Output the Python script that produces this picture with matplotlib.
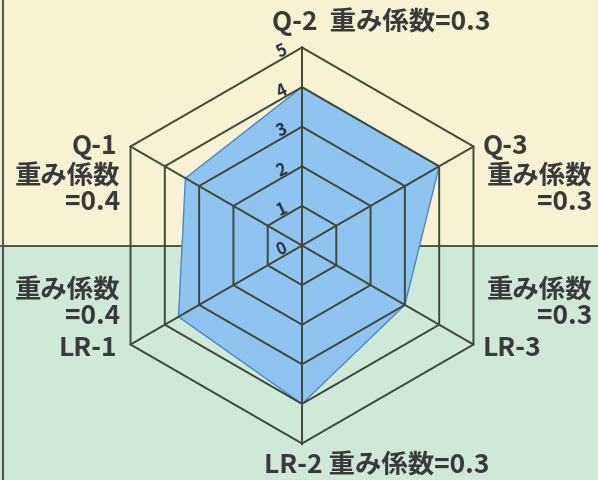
import numpy as np
import matplotlib
matplotlib.use("Agg")
import matplotlib.pyplot as plt

# axis names clockwise from top
axes_names = ["Q-2", "Q-3", "LR-3", "LR-2", "LR-1", "Q-1"]
scores = [4.0, 4.0, 3.0, 4.0, 3.6, 3.4]
weights = [0.3, 0.3, 0.3, 0.3, 0.4, 0.4]
ring_levels = [0, 1, 2, 3, 4, 5]

W, H = 598, 481
CX, CY = 302, 246.5      # centre of the radar in pixels (from top-left)
UNIT = 39.6              # pixels per score point

YELLOW = "#f7f2d4"
GREEN = "#d0e8d7"
GRID = "#3e4839"
TEXT = "#3a3a3a"
FILL = "#8ec4ef"
EDGE = "#4d88c4"

plt.rcParams['font.family'] = ['Noto Sans CJK JP', 'DejaVu Sans']

fig = plt.figure(figsize=(W / 100, H / 100), dpi=100)
ax = fig.add_axes([0, 0, 1, 1])
ax.set_xlim(-CX / UNIT, (W - CX) / UNIT)
ax.set_ylim(-(H - CY) / UNIT, CY / UNIT)
ax.axis("off")

# background halves + divider
ax.axhspan(0, CY / UNIT, color=YELLOW, zorder=0)
ax.axhspan(-(H - CY) / UNIT, 0, color=GREEN, zorder=0)
ax.axhline(0, color=GRID, lw=1.3, zorder=1)
ax.axvline(-CX / UNIT + 3 / UNIT, color="#555a50", lw=1.5, zorder=1)

angles = np.deg2rad([90, 30, -30, -90, -150, 150])
cosa, sina = np.cos(angles), np.sin(angles)

# data polygon
vals = np.array(scores)
ax.fill(vals * cosa, vals * sina, facecolor=FILL, edgecolor=EDGE, lw=1.0, zorder=2)

# hexagonal rings and spokes
for r in ring_levels[1:]:
    xs = np.append(r * cosa, r * cosa[0])
    ys = np.append(r * sina, r * sina[0])
    ax.plot(xs, ys, color=GRID, lw=1.4, zorder=3)
for c, s in zip(cosa, sina):
    ax.plot([0, 5 * c], [0, 5 * s], color=GRID, lw=1.4, zorder=3)

# ring numbers
for r in ring_levels:
    ax.text(-20 / UNIT, r - 3 / UNIT, str(r), fontsize=12, color="#26303f",
            fontweight="bold", ha="center", va="center", rotation=25, zorder=4)


def px(x, y):
    return (x - CX) / UNIT, (CY - y) / UNIT


fs = 19
kw = dict(fontsize=fs, color=TEXT, fontweight="bold", zorder=5)
blk = dict(ha="right", va="center", multialignment="right", linespacing=0.95, **kw)

# top / bottom labels
ax.text(*px(272, 22), f"{axes_names[0]}  重み係数={weights[0]}", ha="left", va="center", **kw)
ax.text(*px(264, 466), f"{axes_names[3]} 重み係数={weights[3]}", ha="left", va="center", **kw)

# left labels
ax.text(*px(117, 146), axes_names[5], ha="right", va="center", **kw)
ax.text(*px(120, 190), f"重み係数\n={weights[5]}", **blk)
ax.text(*px(120, 304), f"重み係数\n={weights[4]}", **blk)
ax.text(*px(117, 348), axes_names[4], ha="right", va="center", **kw)

# right labels
ax.text(*px(483, 146), axes_names[1], ha="left", va="center", **kw)
ax.text(*px(592, 190), f"重み係数\n={weights[1]}", **blk)
ax.text(*px(592, 304), f"重み係数\n={weights[2]}", **blk)
ax.text(*px(483, 348), axes_names[2], ha="left", va="center", **kw)

fig.savefig("out.png", dpi=100)
